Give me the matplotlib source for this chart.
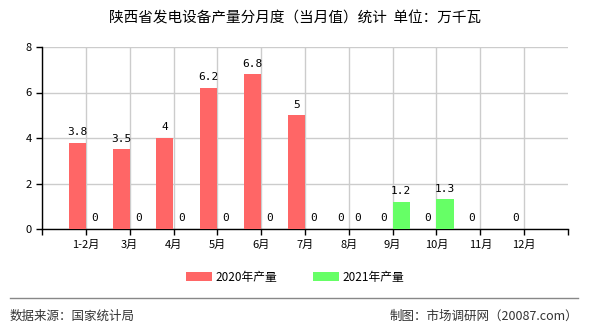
import matplotlib
matplotlib.use("Agg")
import matplotlib.pyplot as plt
import numpy as np

plt.rcParams["font.family"] = ["Noto Sans CJK SC", "DejaVu Sans"]

months = ["1-2月", "3月", "4月", "5月", "6月", "7月", "8月", "9月", "10月", "11月", "12月"]
prod_2020 = [3.8, 3.5, 4, 6.2, 6.8, 5, 0, 0, 0, 0, 0]
prod_2021 = [0, 0, 0, 0, 0, 0, 0, 1.2, 1.3, None, None]

RED = "#ff6666"
GREEN = "#66ff66"

fig = plt.figure(figsize=(5.9, 3.3), dpi=100)
ax = fig.add_axes([42 / 590, 1 - 229 / 330, 526 / 590, 182 / 330])

x = np.arange(len(months))
w = 0.39
v20 = np.array(prod_2020, dtype=float)
v21 = np.array([np.nan if v is None else v for v in prod_2021], dtype=float)

ax.bar(x - w / 2, v20, w, color=RED, label="2020年产量", zorder=3)
ax.bar(x + w / 2, np.nan_to_num(v21), w, color=GREEN, label="2021年产量", zorder=3)

def fmt(v):
    return f"{v:g}"

for xi, v in zip(x, v20):
    ax.text(xi - w / 2, v + 0.25, fmt(v), ha="center", va="bottom", fontsize=8,
            family="DejaVu Sans Mono", zorder=4)
for xi, v in zip(x, v21):
    if not np.isnan(v):
        ax.text(xi + w / 2, v + 0.25, fmt(v), ha="center", va="bottom", fontsize=8,
                family="DejaVu Sans Mono", zorder=4)

ax.set_xlim(-1, len(months))
ax.set_ylim(0, 8)
ax.set_yticks([0, 2, 4, 6, 8])
ax.set_xticks(list(range(-1, len(months) + 1)))
ax.set_xticklabels([""] + months + [""])
ax.tick_params(axis="both", labelsize=8, length=4, width=1, color="black")
ax.grid(True, color="#cccccc", linewidth=1, zorder=0)
for s in ["top", "right"]:
    ax.spines[s].set_visible(False)
for s in ["left", "bottom"]:
    ax.spines[s].set_color("black")
    ax.spines[s].set_linewidth(1)
# no grid line at the right edge
ax.get_xgridlines()[-1].set_visible(False)

fig.text(0.5, 1 - 18 / 330, "陕西省发电设备产量分月度（当月值）统计  单位：万千瓦",
         ha="center", va="center", fontsize=10.5)

fig.legend(loc="center", bbox_to_anchor=(0.5, 1 - 277 / 330), ncol=2, frameon=False,
           fontsize=8.5, handlelength=2.2, handleheight=0.8, columnspacing=3, handletextpad=0.3)

fig.add_artist(plt.Line2D([10 / 590, 578 / 590], [1 - 298 / 330] * 2,
                          color="#888888", linewidth=1, transform=fig.transFigure))
fig.text(10 / 590, 1 - 316 / 330, "数据来源：国家统计局", ha="left", va="center",
         fontsize=9, color="#333333")
fig.text(578 / 590, 1 - 316 / 330, "制图：市场调研网（20087.com）", ha="right", va="center",
         fontsize=9, color="#333333")

fig.savefig("out.png", dpi=100)
